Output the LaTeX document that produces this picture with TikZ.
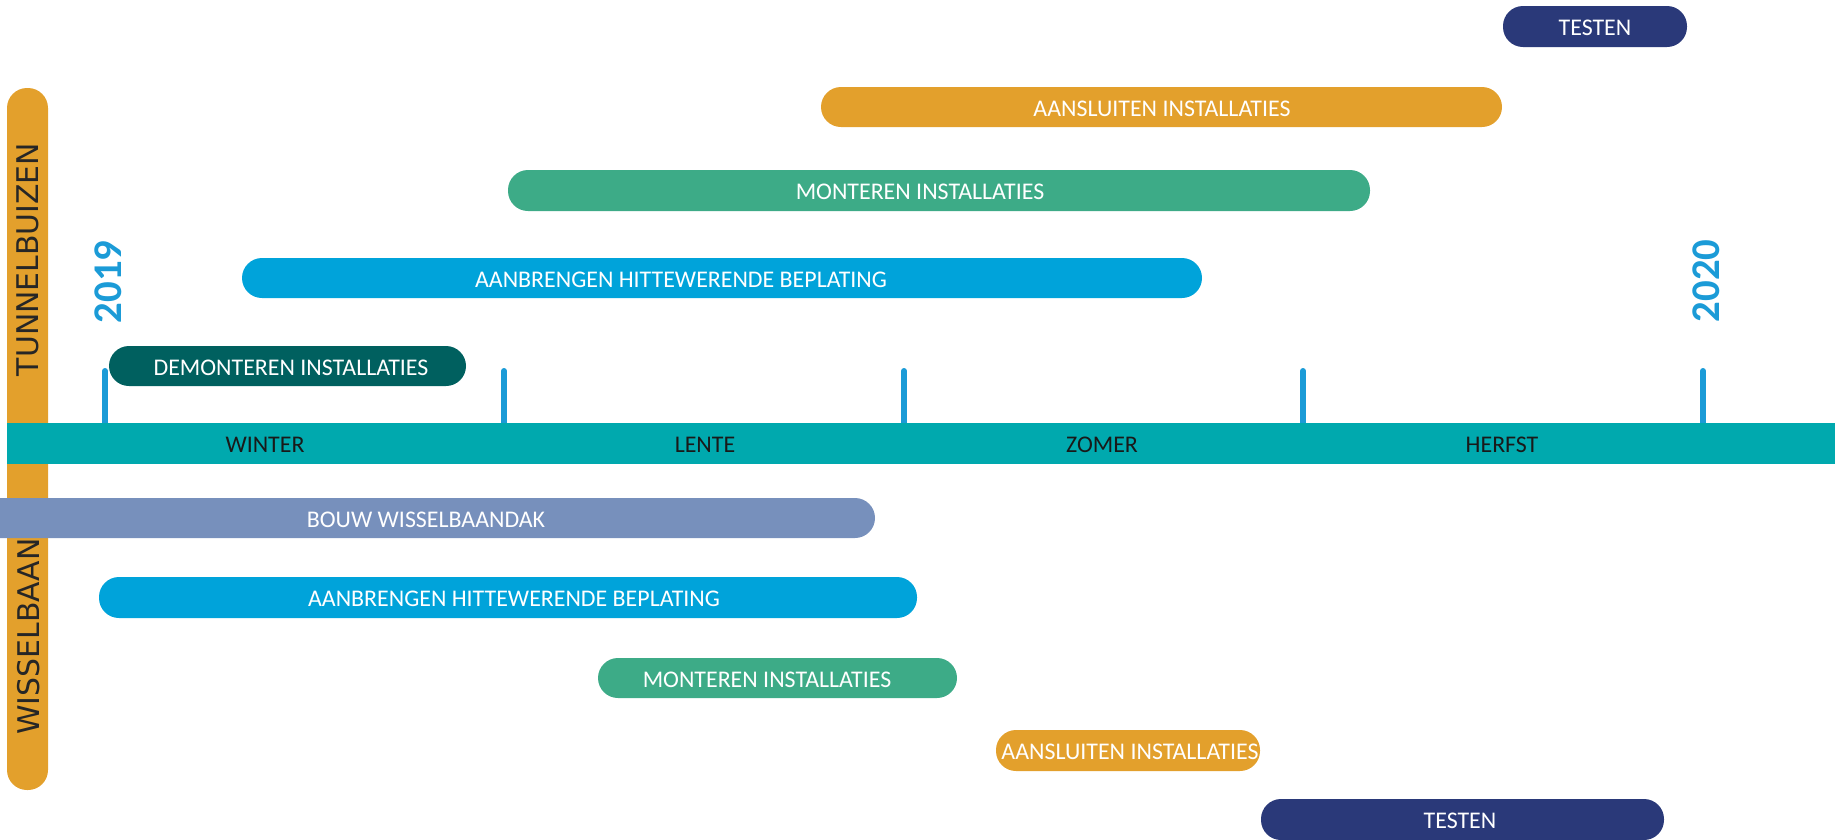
\documentclass[tikz,border=0pt]{standalone}
\usepackage{fontspec}
\setmainfont{Carlito}
\newfontfamily\sidefont{DejaVu Sans}

\definecolor{orangebar}{HTML}{E3A02C}
\definecolor{axisteal}{HTML}{00A9AE}
\definecolor{tickblue}{HTML}{1B9BD7}
\definecolor{hitteblue}{HTML}{00A3DA}
\definecolor{montgreen}{HTML}{3DAB87}
\definecolor{demteal}{HTML}{00605F}
\definecolor{testnavy}{HTML}{2A3979}
\definecolor{bouwblue}{HTML}{7790BC}

\begin{document}
\begin{tikzpicture}[x=0.02cm,y=-0.02cm,
	taak/.style={text=white,inner sep=0pt,font=\fontsize{13.6}{16}\selectfont},
	seizoen/.style={text=black!90,inner sep=0pt,font=\fontsize{13.6}{16}\selectfont},
	zijde/.style={text=black!85,inner sep=0pt,rotate=90,font=\sidefont\fontsize{17}{20}\selectfont},
	jaar/.style={text=tickblue,inner sep=0pt,rotate=90,font=\bfseries\fontsize{23.2}{26}\selectfont},
	balk/.style={rounded corners=0.4cm}]
	\useasboundingbox (0,0) rectangle (1839,839);

	%side bar
	\fill[orangebar, balk] (7,88) rectangle (48,790);
	\node[zijde] (tunnel) at (27.5,259.5) {TUNNELBUIZEN};
	\node[zijde] (wissel) at (29,636.5) {WISSELBAAN};

	%time axis
	\foreach \x in {105, 504, 904, 1303, 1703}{
		\draw[tickblue, line width=0.12cm, line cap=round] (\x,371)--(\x,430);
	}
	\fill[axisteal] (7,423) rectangle (1835,464);
	\node[seizoen] (winter) at (265,445) {WINTER};
	\node[seizoen] (lente) at (705,445) {LENTE};
	\node[seizoen] (zomer) at (1102,445) {ZOMER};
	\node[seizoen] (herfst) at (1502,445) {HERFST};

	\node[jaar] (j2019) at (108,282) {2019};
	\node[jaar] (j2020) at (1706,281) {2020};

	%tunnelbuizen
	\fill[testnavy, balk] (1503,6) rectangle (1687,47);
	\node[taak] (testenT) at (1595,28) {TESTEN};
	\fill[orangebar, balk] (821,87) rectangle (1502,127);
	\node[taak] (aansluitenT) at (1162,108.5) {AANSLUITEN INSTALLATIES};
	\fill[montgreen, balk] (508,170) rectangle (1370,211);
	\node[taak] (monterenT) at (920,192) {MONTEREN INSTALLATIES};
	\fill[hitteblue, balk] (242,258) rectangle (1202,298);
	\node[taak] (hitteT) at (681,279.5) {AANBRENGEN HITTEWERENDE BEPLATING};
	\fill[demteal, balk] (109,346) rectangle (466,386);
	\node[taak] (demonterenT) at (291,367.5) {DEMONTEREN INSTALLATIES};

	%wisselbaan
	\fill[bouwblue] (0,498) -- (855,498) arc[start angle=90, end angle=-90, radius=0.4cm] -- (0,538) -- cycle;
	\node[taak] (bouwW) at (426,520) {BOUW WISSELBAANDAK};
	\fill[hitteblue, balk] (99,577) rectangle (917,618);
	\node[taak] (hitteW) at (514,599) {AANBRENGEN HITTEWERENDE BEPLATING};
	\fill[montgreen, balk] (598,658) rectangle (957,698);
	\node[taak] (monterenW) at (767,679.5) {MONTEREN INSTALLATIES};
	\fill[orangebar, balk] (996,730) rectangle (1260,771);
	\node[taak] (aansluitenW) at (1130,752) {AANSLUITEN INSTALLATIES};
	\fill[testnavy, balk] (1261,799) rectangle (1664,840);
	\node[taak] (testenW) at (1460,821) {TESTEN};
\end{tikzpicture}
\end{document}
